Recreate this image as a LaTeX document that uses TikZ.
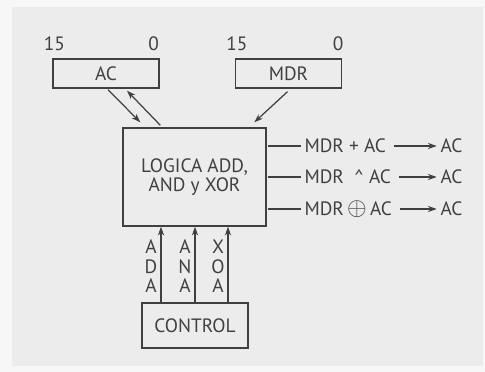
\documentclass[tikz,border=0pt]{standalone}
\usepackage{fontspec}
\setmainfont{PT Sans}
\usetikzlibrary{arrows.meta,calc}
\definecolor{panel}{HTML}{ECECEC}
\definecolor{ink}{HTML}{404040}

\begin{document}
\begin{tikzpicture}[x=.02cm,y=-.02cm,
  lbl/.style={text=ink,font=\fontsize{11}{11}\selectfont},
  reg/.style={lbl,draw=ink,line width=.8pt,minimum width=2.12cm,minimum height=.58cm,inner sep=0pt},
  wire/.style={draw=ink,line width=.7pt,-{Stealth[length=5pt,width=3.5pt]}}]
\fill[white!97!black](0,0)rectangle(485,372);\fill[panel](12,7)rectangle(483,366);
\node[reg](ac)at(106,73.5){AC};\node[reg](mdr)at(288.5,73.5){MDR};
\node[lbl](acmsb)at($(ac.north west)+(2,-15)$){15};\node[lbl](aclsb)at($(ac.north east)+(-6,-15)$){0};
\node[lbl](mdrmsb)at($(mdr.north west)+(2,-15)$){15};\node[lbl](mdrlsb)at($(mdr.north east)+(-4,-15)$){0};
\node[reg,minimum width=2.86cm,minimum height=1.96cm,align=center](alu)at(194.5,177){LOGICA ADD,\\AND y XOR};
\node[reg,minimum height=.9cm](ctl)at(195,325.5){CONTROL};
\draw[wire]($(ac.south)+(2,1)$)--($(alu.north west)+(18,-5)$);
\draw[wire]($(alu.north west)+(38,-2)$)--($(ac.south)+(21,2)$);
\draw[wire]($(mdr.south)+(-1,3)$)--($(alu.north west)+(132,-5)$);
\foreach \dy/\op/\n in {-31/{MDR + AC}/1,0/{MDR \ \textasciicircum\ AC}/2,32/{MDR\,{\fontsize{14}{14}\selectfont$\oplus$}\,AC}/3}{
  \node[lbl,anchor=west,inner sep=2pt](op\n)at($(alu.east)+(34,\dy)$){\op};
  \node[lbl,anchor=west,inner sep=2pt](dst\n)at($(alu.east)+(170,\dy)$){AC};
  \draw[ink,line width=.7pt]($(alu.east|-op\n.west)+(1,0)$)--(op\n.west);
  \draw[wire]($(op\n.east)+(4,0)$)--(dst\n.west);}
\foreach \dx/\txt/\n in {-34/{A\\D\\A}/add,0/{A\\N\\A}/and,33/{X\\O\\A}/xor}{
  \coordinate(c\n)at($(ctl.north)+(\dx,0)$);
  \draw[wire](c\n)--(c\n|-alu.south);
  \node[lbl,align=center,inner sep=0pt](s\n)at($(c\n)+(-10,-36)$){\txt};}
\end{tikzpicture}
\end{document}
